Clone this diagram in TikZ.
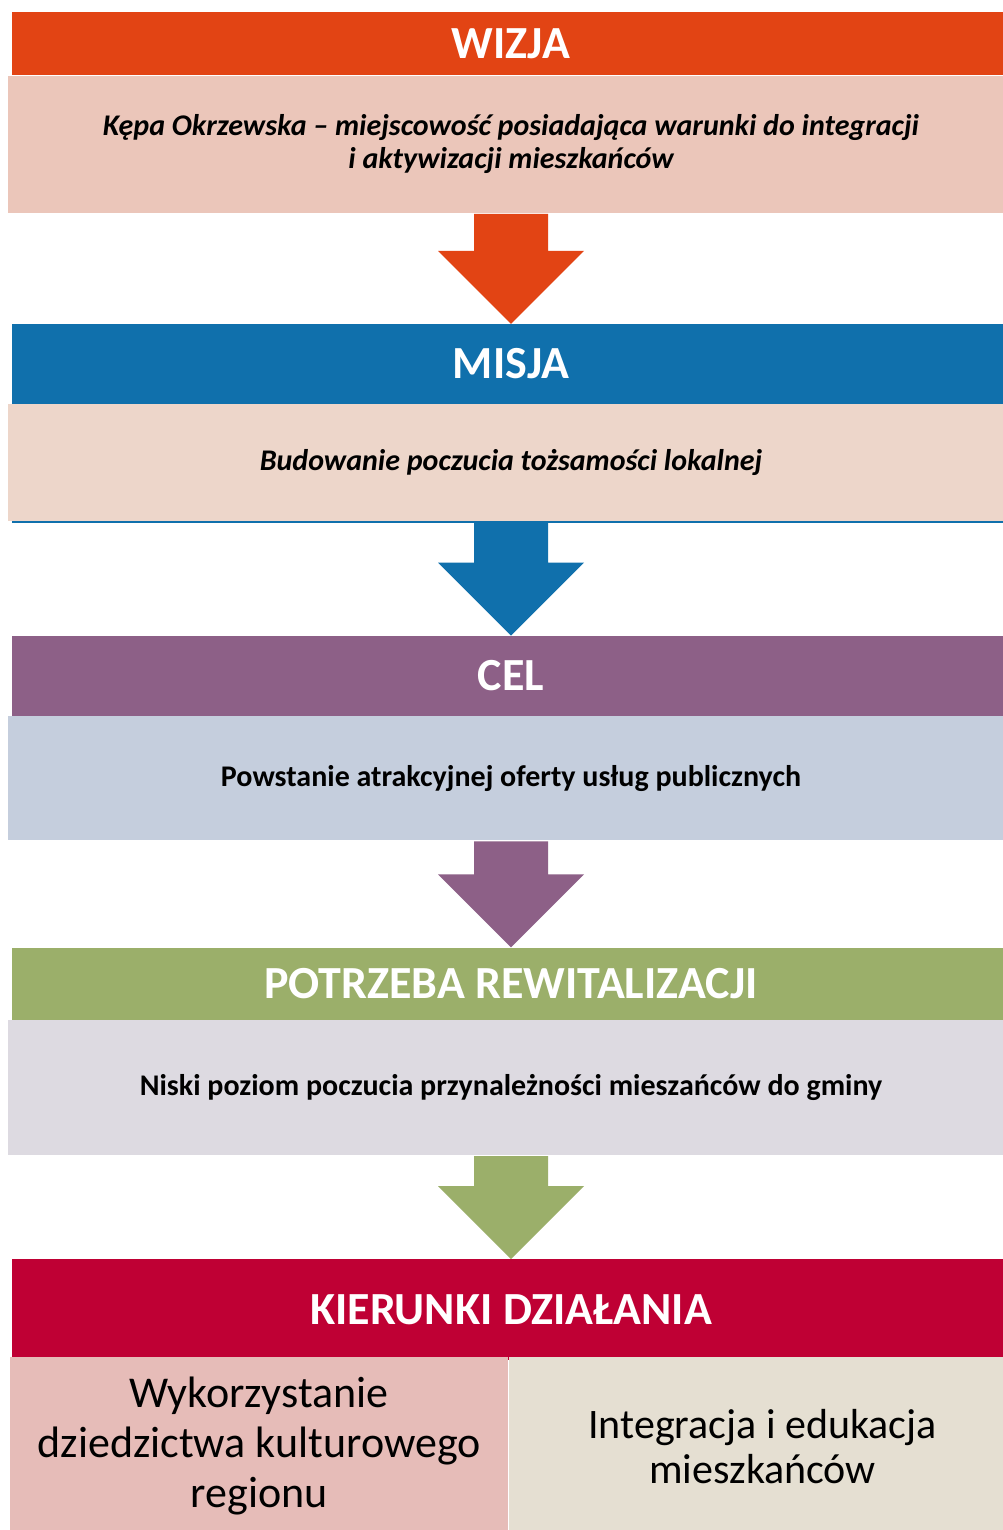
\documentclass[tikz,border=0pt]{standalone}
\usepackage{fontspec}
\setmainfont{Carlito}
\usetikzlibrary{positioning,calc}

\definecolor{wizjacol}{RGB}{226,68,20}
\definecolor{wizjabg}{RGB}{235,198,186}
\definecolor{misjacol}{RGB}{16,112,172}
\definecolor{misjabg}{RGB}{237,214,202}
\definecolor{celcol}{RGB}{141,96,135}
\definecolor{celbg}{RGB}{197,206,221}
\definecolor{potrzcol}{RGB}{155,175,106}
\definecolor{potrzbg}{RGB}{221,218,225}
\definecolor{kiercol}{RGB}{191,0,52}
\definecolor{leftbg}{RGB}{230,188,184}
\definecolor{rightbg}{RGB}{229,223,210}

\tikzset{
  hdr/.style={rectangle, fill=#1, inner sep=0pt, minimum width=998pt,
    text=white, font=\fontsize{46}{52}\selectfont\bfseries},
  bodybox/.style={rectangle, fill=#1, inner sep=0pt, minimum width=1006pt,
    align=center, font=\fontsize{30}{33}\selectfont\bfseries},
  dirbox/.style={rectangle, fill=#1, inner sep=0pt, minimum height=178pt,
    align=center}
}

% block arrow from the box above to the header below
\newcommand\flowarrow[3]{%
  \fill[#3] ($(#1.south)+(-37,-1)$) -- ($(#1.south)+(37,-1)$)
    -- ($(#2.north)+(37,73)$) -- ($(#2.north)+(73,73)$) -- (#2.north)
    -- ($(#2.north)+(-73,73)$) -- ($(#2.north)+(-37,73)$) -- cycle;}

\begin{document}
\begin{tikzpicture}[x=1pt, y=1pt]
\useasboundingbox[fill=white] (0,0) rectangle (1003,-1530);

% WIZJA
\node[hdr=wizjacol, minimum height=63pt, anchor=north] (wizja) at (511,-12) {WIZJA};
\node[bodybox=wizjabg, minimum height=137pt, below=0pt of wizja] (wizjatxt)
  {\itshape Kępa Okrzewska – miejscowość posiadająca warunki do integracji\\
   \itshape i aktywizacji mieszkańców};

% MISJA
\node[hdr=misjacol, minimum height=80pt, below=111pt of wizjatxt] (misja) {MISJA};
\node[bodybox=misjabg, minimum height=117pt, below=0pt of misja] (misjatxt)
  {\itshape Budowanie poczucia tożsamości lokalnej};
\draw[misjacol, line width=2pt] ($(misjatxt.south west)+(4,0)$) -- (misjatxt.south east);

% CEL
\node[hdr=celcol, minimum height=80pt, below=114pt of misjatxt] (cel) {CEL};
\node[bodybox=celbg, minimum height=124pt, below=0pt of cel] (celtxt)
  {Powstanie atrakcyjnej oferty usług publicznych};

% POTRZEBA
\node[hdr=potrzcol, minimum height=72pt, below=107pt of celtxt] (potrz) {POTRZEBA REWITALIZACJI};
\node[bodybox=potrzbg, minimum height=135pt, below=0pt of potrz] (potrztxt)
  {Niski poziom poczucia przynależności mieszańców do gminy};

% KIERUNKI
\node[hdr=kiercol, minimum height=101pt, below=104pt of potrztxt] (kier) {KIERUNKI DZIAŁANIA};
\node[dirbox=leftbg, minimum width=498pt, anchor=north west,
  font=\fontsize{44}{50}\selectfont] (dirleft) at (10,-1357)
  {Wykorzystanie\\dziedzictwa kulturowego\\regionu};
\node[dirbox=rightbg, minimum width=508pt, right=0pt of dirleft,
  font=\fontsize{42}{45}\selectfont] (dirright)
  {Integracja i edukacja\\mieszkańców};

\flowarrow{wizjatxt}{misja}{wizjacol}
\flowarrow{misjatxt}{cel}{misjacol}
\flowarrow{celtxt}{potrz}{celcol}
\flowarrow{potrztxt}{kier}{potrzcol}
\end{tikzpicture}
\end{document}
